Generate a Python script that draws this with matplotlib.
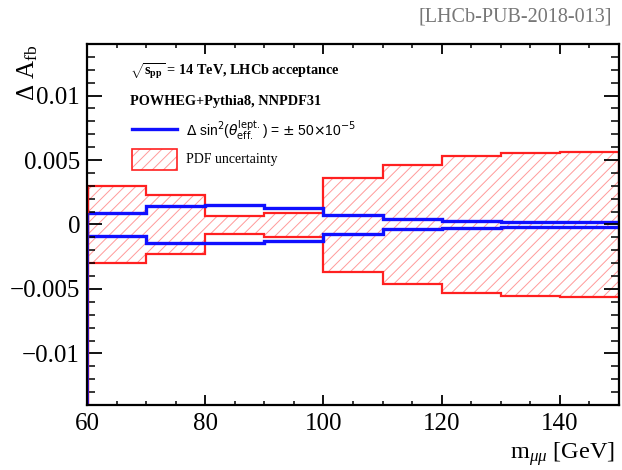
import matplotlib
matplotlib.use('Agg')
import matplotlib.pyplot as plt
from matplotlib.ticker import MultipleLocator, FuncFormatter
from matplotlib.patches import Rectangle
import numpy as np

# bin edges in m_mumu [GeV]
edges = [60, 70, 80, 90, 100, 110, 120, 130, 140, 150]
# PDF uncertainty band on A_fb (upper / lower)
pdf_up = [0.00295, 0.00227, 0.00065, 0.00090, 0.00362, 0.00463, 0.00530, 0.00556, 0.00560]
pdf_dn = [-0.00297, -0.00227, -0.00070, -0.00098, -0.00367, -0.00460, -0.00530, -0.00556, -0.00560]
# shift from delta sin2theta_eff = +-50e-5
sw_up = [0.00090, 0.00142, 0.00150, 0.00130, 0.00070, 0.00039, 0.00028, 0.00023, 0.00018]
sw_dn = [-0.00090, -0.00142, -0.00147, -0.00130, -0.00070, -0.00034, -0.00026, -0.00021, -0.00018]

plt.rcParams['font.family'] = 'Liberation Serif'
plt.rcParams['mathtext.fontset'] = 'custom'
plt.rcParams['mathtext.rm'] = 'Liberation Serif'
plt.rcParams['mathtext.it'] = 'Liberation Serif:italic'
plt.rcParams['mathtext.bf'] = 'Liberation Serif:bold'
plt.rcParams['hatch.linewidth'] = 0.7

red = '#ff2020'
hatch_col = '#ff9a9a'
blue = '#1010ff'

fig = plt.figure(figsize=(6.22, 4.70), dpi=100)
ax = fig.add_axes([87/622, 65/470, 532/622, 361/470])

# hatched band
ax.stairs(pdf_up, edges, baseline=pdf_dn, fill=True, facecolor='none',
          edgecolor=hatch_col, hatch='///', linewidth=0)
ax.stairs(pdf_up, edges, color=red, lw=1.6)
ax.stairs(pdf_dn, edges, color=red, lw=1.6)
ax.vlines(60, -0.014, pdf_up[0], color=red, lw=2.5)

ax.stairs(sw_up, edges, color=blue, lw=2.4)
ax.stairs(sw_dn, edges, color=blue, lw=2.4)
ax.vlines(60.25, -0.014, sw_up[0], color=blue, lw=1.2)

ax.set_xlim(60, 150)
ax.set_ylim(-0.014, 0.014)

ax.xaxis.set_major_locator(MultipleLocator(20))
ax.xaxis.set_minor_locator(MultipleLocator(5))
ax.yaxis.set_major_locator(MultipleLocator(0.005))
ax.yaxis.set_minor_locator(MultipleLocator(0.001))
ax.yaxis.set_major_formatter(FuncFormatter(lambda v, p: ('%g' % round(v, 4)).replace('-', '\u2212')))

ax.tick_params(which='both', direction='in', top=True, right=True, labelsize=18)
ax.tick_params(axis='x', which='major', length=7.2, width=1.3, pad=6)
ax.tick_params(axis='x', which='minor', length=3.0, width=1.1)
ax.tick_params(axis='y', which='major', length=10.8, width=1.3, pad=5)
ax.tick_params(axis='y', which='minor', length=5.5, width=1.1)
for s in ax.spines.values():
    s.set_linewidth(1.6)

fig.text(615/622, 1 - 454/470, r'm$_{\mu\mu}$ [GeV]', ha='right', va='center', fontsize=17.5)
fig.text(28/622, 1 - 45/470, r'$\Delta$ A$_{\rm fb}$', rotation=90, ha='center', va='top', fontsize=18)
fig.text(612/622, 1 - 17/470, '[LHCb-PUB-2018-013]', ha='right', va='center',
         fontsize=14.5, color='#777777')

# legend
tr = ax.transAxes
ax.text(0.081, 0.922, r'$\sqrt{\mathbf{s}_{\mathbf{pp}}}$ = 14 TeV, LHCb acceptance',
        transform=tr, fontsize=10.3, fontweight='bold', va='center')
ax.text(0.081, 0.842, 'POWHEG+Pythia8, NNPDF31', transform=tr, fontsize=10.3,
        fontweight='bold', va='center')
ax.plot([0.085, 0.169], [0.7645, 0.7645], color=blue, lw=2.4, transform=tr)
ax.text(0.186, 0.762, r'$\Delta$ sin$^2$($\theta^{\rm lept.}_{\rm eff.}$) = $\pm$ 50$\times$10$^{-5}$',
        transform=tr, fontsize=10, va='center', family='Liberation Sans',
        math_fontfamily='dejavusans')
ax.add_patch(Rectangle((0.085, 0.651), 0.084, 0.058, transform=tr, facecolor='none',
                       edgecolor=hatch_col, hatch='///', lw=0))
ax.add_patch(Rectangle((0.085, 0.651), 0.084, 0.058, transform=tr, facecolor='none',
                       edgecolor=red, lw=1.2))
ax.text(0.186, 0.679, 'PDF uncertainty', transform=tr, fontsize=10, va='center')

fig.savefig('out.png', dpi=100)
